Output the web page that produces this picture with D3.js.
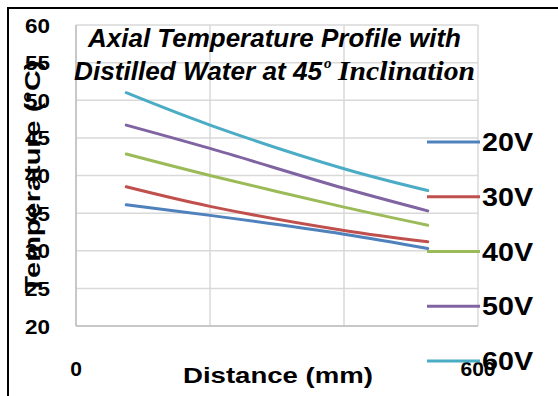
<!DOCTYPE html>
<html><head><meta charset="utf-8">
<script src="https://cdn.jsdelivr.net/npm/d3@7"></script>
<style>body{margin:0;background:#fff}svg{display:block}.sans{font-family:"Liberation Sans",Arial,sans-serif;font-weight:bold;fill:#000}.serif{font-family:"Times New Roman","Liberation Serif","DejaVu Serif",serif;font-weight:bold;font-style:italic;fill:#000}</style>
</head><body><svg id="c" width="558" height="396"></svg>
<script>
const distances = [75, 200, 400, 525];
const seriesNames = ["20V", "30V", "40V", "50V", "60V"];
const v20 = [36.1, 34.7, 32.2, 30.3];
const v30 = [38.5, 35.9, 32.7, 31.2];
const v40 = [42.85, 40.0, 35.8, 33.4];
const v50 = [46.7, 43.6, 38.3, 35.3];
const v60 = [51.0, 46.7, 40.9, 38.0];
const yTicks = [20, 25, 30, 35, 40, 45, 50, 55, 60];
const xGrid = [0, 200, 400, 600];
const xTickLabels = [0, 600];
const colors = ["#4f81bd", "#c0504d", "#9bbb59", "#8064a2", "#4bacc6"];
const values = [v20, v30, v40, v50, v60];

const svg = d3.select("#c");
const x = d3.scaleLinear().domain([0, 600]).range([76, 478]);
const y = d3.scaleLinear().domain([20, 60]).range([326, 25]);

svg.append("rect").attr("x", 8).attr("y", 8).attr("width", 560).attr("height", 400)
  .attr("fill", "none").attr("stroke", "#000").attr("stroke-width", 2);

// grid
svg.append("g").selectAll("line").data(yTicks).join("line")
  .attr("x1", x(0)).attr("x2", x(600)).attr("y1", d => y(d)).attr("y2", d => y(d))
  .attr("stroke", "#d9d9d9").attr("stroke-width", 1.5);
svg.append("g").selectAll("line").data(xGrid).join("line")
  .attr("y1", y(20)).attr("y2", y(60)).attr("x1", d => x(d)).attr("x2", d => x(d))
  .attr("stroke", "#d9d9d9").attr("stroke-width", 1.5);
svg.append("line").attr("x1", x(0)).attr("x2", x(0)).attr("y1", y(20)).attr("y2", y(60)).attr("stroke", "#bfbfbf").attr("stroke-width", 1.5);
svg.append("line").attr("x1", x(0)).attr("x2", x(600)).attr("y1", y(20)).attr("y2", y(20)).attr("stroke", "#bfbfbf").attr("stroke-width", 1.5);

// y tick labels
svg.append("g").selectAll("text").data(yTicks).join("text").attr("class", "sans")
  .attr("x", 50).attr("y", d => y(d)).attr("text-anchor", "end")
  .attr("dominant-baseline", "central").style("font-size", "21px")
  .attr("textLength", 25).attr("lengthAdjust", "spacingAndGlyphs").text(d => d);

// x tick labels
svg.append("g").selectAll("text").data(xTickLabels).join("text").attr("class", "sans")
  .attr("x", d => x(d)).attr("y", 368).attr("text-anchor", "middle")
  .attr("dominant-baseline", "central").style("font-size", "21px").text(d => d);

// axis titles
svg.append("text").attr("class", "sans").attr("transform", "translate(32,177) rotate(-90)")
  .attr("text-anchor", "middle").attr("dominant-baseline", "central")
  .style("font-size", "22px").attr("textLength", 233).attr("lengthAdjust", "spacingAndGlyphs")
  .text("Temperature (°C)");
svg.append("text").attr("class", "sans").attr("x", 183).attr("y", 383)
  .style("font-size", "22px").attr("textLength", 190).attr("lengthAdjust", "spacingAndGlyphs")
  .text("Distance (mm)");

// lines
const line = d3.line().x((d, i) => x(distances[i])).y(d => y(d)).curve(d3.curveCatmullRom.alpha(0.5));
svg.append("g").selectAll("path").data(values).join("path")
  .attr("d", d => line(d)).attr("fill", "none")
  .attr("stroke", (d, i) => colors[i]).attr("stroke-width", 3).attr("stroke-linecap", "round");

// title
svg.append("text").attr("class", "sans").attr("x", 88).attr("y", 47)
  .style("font-size", "25px").style("font-style", "italic")
  .attr("textLength", 373).attr("lengthAdjust", "spacingAndGlyphs")
  .text("Axial Temperature Profile with");
svg.append("text").attr("class", "sans").attr("x", 74).attr("y", 80)
  .style("font-size", "25px").style("font-style", "italic")
  .attr("textLength", 248).attr("lengthAdjust", "spacingAndGlyphs")
  .text("Distilled Water at 45");
svg.append("text").attr("class", "serif").attr("x", 324).attr("y", 68)
  .style("font-size", "15px")
  .text("o");
svg.append("text").attr("class", "serif").attr("x", 338).attr("y", 80)
  .style("font-size", "27px")
  .attr("textLength", 137).attr("lengthAdjust", "spacingAndGlyphs")
  .text("Inclination");

// legend
const legendY = d3.scalePoint().domain(seriesNames).range([142, 361]);
const lg = svg.append("g");
lg.selectAll("line").data(seriesNames).join("line")
  .attr("x1", 427).attr("x2", 480).attr("y1", d => legendY(d)).attr("y2", d => legendY(d))
  .attr("stroke", (d, i) => colors[i]).attr("stroke-width", 3);
lg.selectAll("text").data(seriesNames).join("text").attr("class", "sans")
  .attr("x", 482).attr("y", d => legendY(d)).attr("dominant-baseline", "central")
  .style("font-size", "25px").attr("textLength", 51).attr("lengthAdjust", "spacingAndGlyphs")
  .text(d => d);
</script></body></html>
